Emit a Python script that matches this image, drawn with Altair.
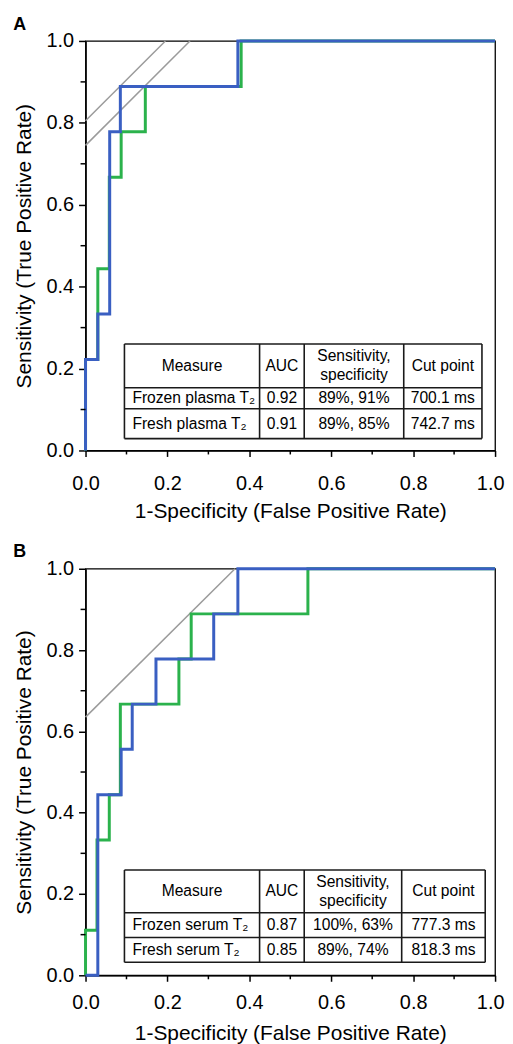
import altair as alt
import pandas as pd

FONT = "Liberation Sans"
GREEN = "#2bb24c"
BLUE = "#3a5fc2"
GRAY = "#9b9b9b"
TFS = 15.7  # table font size

# ---------------- Panel A (plasma) ----------------
a_frozen_fpr = [0, 0, 0.030, 0.030, 0.059, 0.059, 0.085, 0.085, 0.372, 0.372, 1.0]
a_frozen_tpr = [0, 0.222, 0.222, 0.333, 0.333, 0.778, 0.778, 0.889, 0.889, 1.0, 1.0]
a_fresh_fpr = [0, 0, 0.030, 0.030, 0.058, 0.058, 0.087, 0.087, 0.146, 0.146, 0.380, 0.380, 1.0]
a_fresh_tpr = [0, 0.222, 0.222, 0.444, 0.444, 0.667, 0.667, 0.778, 0.778, 0.889, 0.889, 1.0, 1.0]
a_iso1_fpr = [0, 0.195]
a_iso1_tpr = [0.805, 1.0]
a_iso2_fpr = [0, 0.255]
a_iso2_tpr = [0.745, 1.0]

# ---------------- Panel B (serum) ----------------
b_frozen_fpr = [0, 0.030, 0.030, 0.087, 0.087, 0.114, 0.114, 0.172, 0.172, 0.313, 0.313, 0.372, 0.372, 1.0]
b_frozen_tpr = [0, 0, 0.444, 0.444, 0.556, 0.556, 0.667, 0.667, 0.778, 0.778, 0.889, 0.889, 1.0, 1.0]
b_fresh_fpr = [0, 0, 0.028, 0.028, 0.058, 0.058, 0.085, 0.085, 0.228, 0.228, 0.258, 0.258, 0.543, 0.543, 1.0]
b_fresh_tpr = [0, 0.111, 0.111, 0.333, 0.333, 0.444, 0.444, 0.667, 0.667, 0.778, 0.778, 0.889, 0.889, 1.0, 1.0]
b_iso_fpr = [0, 0.365]
b_iso_tpr = [0.635, 1.0]

# ---------------- Axis ticks ----------------
major_ticks = [0.0, 0.2, 0.4, 0.6, 0.8, 1.0]
minor_ticks = [0.1, 0.3, 0.5, 0.7, 0.9]

# ---------------- Inset tables ----------------
table_header = ["Measure", "AUC", "Cut point"]
table_header_multi = ["Sensitivity,\nspecificity"]
a_measure = ["Frozen plasma T\u2082", "Fresh plasma T\u2082"]
a_auc = ["0.92", "0.91"]
a_sens_spec = ["89%, 91%", "89%, 85%"]
a_cut = ["700.1 ms", "742.7 ms"]
b_measure = ["Frozen serum T\u2082", "Fresh serum  T\u2082"]
b_auc = ["0.87", "0.85"]
b_sens_spec = ["100%, 63%", "89%, 74%"]
b_cut = ["777.3 ms", "818.3 ms"]

# table grid (in data units of the plot)
a_col_edges = [0.095, 0.425, 0.534, 0.777, 0.968]
a_row_edges = [0.260, 0.153, 0.102, 0.029]
b_col_edges = [0.095, 0.425, 0.534, 0.772, 0.976]
b_row_edges = [0.259, 0.154, 0.093, 0.032]

X_TITLE = "1-Specificity (False Positive Rate)"
Y_TITLE = "Sensitivity (True Positive Rate)"


def curve_df(fpr, tpr):
    return pd.DataFrame({"fpr": fpr, "tpr": tpr, "i": list(range(len(fpr)))})


def panel(letter, fresh, frozen, isos, measure, auc, sens, cut,
          col_edges, row_edges, height, lab_pad, title_pad, t_offset):
    xs = alt.Scale(domain=[0, 1], nice=False, zero=False)
    ys = alt.Scale(domain=[0, 1], nice=False, zero=False)
    common = dict(values=major_ticks, format=".1f", grid=False, labelFlush=False,
                  labelOverlap=False, domainColor="black", domainWidth=1.5,
                  tickColor="black", tickWidth=1.5, labelColor="black",
                  titleColor="black", labelFont=FONT, titleFont=FONT,
                  labelFontSize=20, titleFontSize=21, titleFontWeight="normal")
    xaxis = alt.Axis(title=X_TITLE, tickSize=6, labelPadding=lab_pad,
                     titlePadding=title_pad,
                     labelAlign={"expr": "datum.value > 0.99 ? 'right' : 'center'"},
                     labelOffset={"expr": "datum.value > 0.99 ? 9 : 0"},
                     **common)
    yaxis = alt.Axis(title=Y_TITLE, tickSize=7, labelPadding=5, titlePadding=12,
                     **common)

    def X(f):
        return alt.X(f, scale=xs, axis=xaxis)

    def Y(f):
        return alt.Y(f, scale=ys, axis=yaxis)

    iso_rows = []
    for k, (f, t) in enumerate(isos):
        for j in range(len(f)):
            iso_rows.append({"fpr": f[j], "tpr": t[j], "seg": k, "i": j})
    iso_df = pd.DataFrame(iso_rows)

    iso = alt.Chart(iso_df).mark_line(color=GRAY, strokeWidth=1.5).encode(
        x=X("fpr:Q"), y=Y("tpr:Q"), detail="seg:N", order="i:Q")

    def line(df, color):
        return alt.Chart(df).mark_line(color=color, strokeWidth=3).encode(
            x=X("fpr:Q"), y=Y("tpr:Q"), order="i:Q")

    g = line(curve_df(*fresh), GREEN)
    b = line(curve_df(*frozen), BLUE)

    mdf = pd.DataFrame({"v": minor_ticks})
    minor_x = alt.Chart(mdf).mark_rule(color="black", strokeWidth=1.5).encode(
        x=X("v:Q"), y=alt.value(height), y2=alt.value(height + 4))
    minor_y = alt.Chart(mdf).mark_rule(color="black", strokeWidth=1.5).encode(
        y=Y("v:Q"), x=alt.value(0), x2=alt.value(-5))

    # table
    bg = alt.Chart(pd.DataFrame({"x": [col_edges[0]], "x2": [col_edges[-1]],
                                 "y": [row_edges[-1]], "y2": [row_edges[0]]})
                   ).mark_rect(fill="white").encode(
        x=X("x:Q"), x2="x2:Q", y=Y("y:Q"), y2="y2:Q")
    hdf = pd.DataFrame({"y": row_edges, "x": [col_edges[0]] * len(row_edges),
                        "x2": [col_edges[-1]] * len(row_edges)})
    vdf = pd.DataFrame({"x": col_edges, "y": [row_edges[-1]] * len(col_edges),
                        "y2": [row_edges[0]] * len(col_edges)})
    hr = alt.Chart(hdf).mark_rule(color="#1a1a1a", strokeWidth=1.6).encode(
        x=X("x:Q"), x2="x2:Q", y=Y("y:Q"))
    vr = alt.Chart(vdf).mark_rule(color="#1a1a1a", strokeWidth=1.6).encode(
        x=X("x:Q"), y=Y("y:Q"), y2="y2:Q")

    col_c = [(col_edges[k] + col_edges[k + 1]) / 2 for k in range(4)]
    row_c = [(row_edges[k] + row_edges[k + 1]) / 2 for k in range(3)]

    head_df = pd.DataFrame({"x": [col_c[0], col_c[1], col_c[3]], "y": [row_c[0]] * 3,
                            "t": table_header})
    head = alt.Chart(head_df).mark_text(font=FONT, fontSize=TFS, color="black",
                                        baseline="middle", align="center").encode(
        x=X("x:Q"), y=Y("y:Q"), text="t:N")
    head2_df = pd.DataFrame({"x": [col_c[2]], "y": [row_c[0]], "t": table_header_multi})
    head2 = alt.Chart(head2_df).mark_text(font=FONT, fontSize=TFS, color="black",
                                          baseline="middle", align="center",
                                          lineBreak="\n", lineHeight=19, dy=-9.5).encode(
        x=X("x:Q"), y=Y("y:Q"), text="t:N")

    meas_df = pd.DataFrame({"x": [col_edges[0]] * 2, "y": row_c[1:], "t": measure})
    meas = alt.Chart(meas_df).mark_text(font=FONT, fontSize=TFS, color="black",
                                        baseline="middle", align="left", dx=8).encode(
        x=X("x:Q"), y=Y("y:Q"), text="t:N")

    cell_rows = []
    for r in range(2):
        for c, vals in zip(col_c[1:], [auc, sens, cut]):
            cell_rows.append({"x": c, "y": row_c[1 + r], "t": vals[r]})
    cells = alt.Chart(pd.DataFrame(cell_rows)).mark_text(
        font=FONT, fontSize=TFS, color="black", baseline="middle", align="center").encode(
        x=X("x:Q"), y=Y("y:Q"), text="t:N")

    return alt.layer(iso, g, b, minor_x, minor_y, bg, hr, vr, head, head2, meas, cells).properties(
        width=412, height=height,
        title=alt.TitleParams(text=letter, anchor="start", frame="bounds", fontSize=18,
                              fontWeight="bold", font=FONT, color="black", offset=t_offset))


pa = panel("A", (a_fresh_fpr, a_fresh_tpr), (a_frozen_fpr, a_frozen_tpr),
           [(a_iso1_fpr, a_iso1_tpr), (a_iso2_fpr, a_iso2_tpr)],
           a_measure, a_auc, a_sens_spec, a_cut, a_col_edges, a_row_edges,
           412, 17, 7, -3)
pb = panel("B", (b_fresh_fpr, b_fresh_tpr), (b_frozen_fpr, b_frozen_tpr),
           [(b_iso_fpr, b_iso_tpr)],
           b_measure, b_auc, b_sens_spec, b_cut, b_col_edges, b_row_edges,
           409, 11, 11, -2)

chart = alt.vconcat(pa, pb, spacing=20).properties(
    padding={"left": 4, "top": 4, "right": 0, "bottom": 0},
    background="white"
).configure_view(stroke="black", strokeWidth=1.3)

chart.save("out.html", embed_options={"renderer": "svg", "actions": False})
